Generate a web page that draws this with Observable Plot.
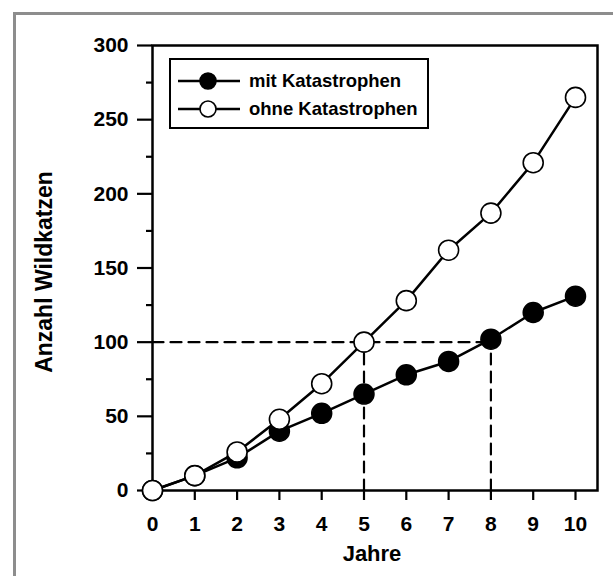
<!DOCTYPE html>
<html>
<head>
<meta charset="utf-8">
<script src="https://cdn.jsdelivr.net/npm/d3@7"></script>
<script src="https://cdn.jsdelivr.net/npm/@observablehq/plot@0.6"></script>
<style>
  html, body { margin: 0; padding: 0; background: #fff; }
  #wrap { position: relative; width: 613px; height: 576px; overflow: hidden; font-family: "Liberation Sans", Arial, sans-serif; }
  #border { position: absolute; left: 13px; top: 12px; width: 700px; height: 700px; border-top: 3px solid #8d8d8d; border-left: 3px solid #8d8d8d; }
  #chart { position: absolute; left: 0; top: 0; }
  #legend { position: absolute; left: 169px; top: 58px; width: 256px; height: 67px; border: 2.5px solid #000; background: #fff; box-sizing: content-box; }
  .item { position: absolute; left: 6px; height: 24px; display: flex; align-items: center; font-weight: bold; font-size: 18.5px; color: #000; white-space: nowrap; }
  .item svg { margin-right: 8px; }
</style>
</head>
<body>
<div id="wrap">
  <div id="border"></div>
  <div id="chart"></div>
  <div id="legend"></div>
</div>
<script>
const years = [0, 1, 2, 3, 4, 5, 6, 7, 8, 9, 10];
const mitKatastrophen = [0, 10, 22, 40, 52, 65, 78, 87, 102, 120, 131];
const ohneKatastrophen = [0, 10, 26, 48, 72, 100, 128, 162, 187, 221, 265];
const seriesNames = ["mit Katastrophen", "ohne Katastrophen"];
const yMajorTicks = [0, 50, 100, 150, 200, 250, 300];
const yMinorTicks = [25, 75, 125, 175, 225, 275];
const xTitle = "Jahre";
const yTitle = "Anzahl Wildkatzen";
const threshold = 100;
const thresholdYears = [5, 8];

const mitData = years.map((x, i) => ({x, y: mitKatastrophen[i]}));
const ohneData = years.map((x, i) => ({x, y: ohneKatastrophen[i]}));
const hLine = [{x: 0, y: threshold}, {x: d3.max(thresholdYears), y: threshold}];
const vLines = thresholdYears.flatMap(t => [{x: t, y: 0, g: t}, {x: t, y: threshold, g: t}]);

const chart = Plot.plot({
  width: 613,
  height: 576,
  marginLeft: 152,
  marginRight: 16,
  marginTop: 45,
  marginBottom: 86,
  x: {domain: [0, 10.52]},
  y: {domain: [0, 300]},
  style: {fontFamily: "'Liberation Sans', Arial, sans-serif", fontWeight: "bold", fontSize: "21px", color: "#000", background: "transparent", overflow: "visible"},
  marks: [
    Plot.line(hLine, {x: "x", y: "y", stroke: "#000", strokeWidth: 2.2, strokeDasharray: "11,7"}),
    Plot.line(vLines, {x: "x", y: "y", z: "g", stroke: "#000", strokeWidth: 2.2, strokeDasharray: "11,7"}),
    Plot.axisY({ticks: yMajorTicks, tickSize: 15, tickPadding: 9, fontSize: 21, fontWeight: "bold", strokeWidth: 2.2, label: null}),
    Plot.axisY({ticks: yMinorTicks, tickSize: 6, text: null, label: null, strokeWidth: 2.2}),
    Plot.axisX({ticks: years, tickSize: 10, tickPadding: 16, fontSize: 21, fontWeight: "bold", strokeWidth: 2.2, label: null}),
    Plot.text([yTitle], {text: d => d, frameAnchor: "left", textAnchor: "middle", lineAnchor: "middle", rotate: -90, dx: -108, dy: 4, fontSize: 23, fontWeight: "bold", fill: "#000"}),
    Plot.text([xTitle], {text: d => d, frameAnchor: "bottom", textAnchor: "middle", lineAnchor: "middle", dy: 63, dx: -3, fontSize: 22, fontWeight: "bold", fill: "#000"}),
    Plot.frame({stroke: "#000", strokeWidth: 2.5}),
    Plot.line(mitData, {x: "x", y: "y", stroke: "#000", strokeWidth: 2.5}),
    Plot.dot(mitData, {x: "x", y: "y", r: 10, fill: "#000", stroke: "#000"}),
    Plot.line(ohneData, {x: "x", y: "y", stroke: "#000", strokeWidth: 2.5}),
    Plot.dot(ohneData, {x: "x", y: "y", r: 10, fill: "#fff", stroke: "#000", strokeWidth: 1.6})
  ]
});
document.getElementById("chart").appendChild(chart);

const legend = document.getElementById("legend");
seriesNames.forEach((name, i) => {
  const item = document.createElement("div");
  item.className = "item";
  item.style.top = (9 + i * 28) + "px";
  const fill = i === 0 ? "#000" : "#fff";
  item.innerHTML = `<svg width="64" height="24"><line x1="1" y1="12" x2="63" y2="12" stroke="#000" stroke-width="2.5"/><circle cx="31" cy="12" r="8" fill="${fill}" stroke="#000" stroke-width="1.6"/></svg><span>${name}</span>`;
  legend.appendChild(item);
});
</script>
</body>
</html>
